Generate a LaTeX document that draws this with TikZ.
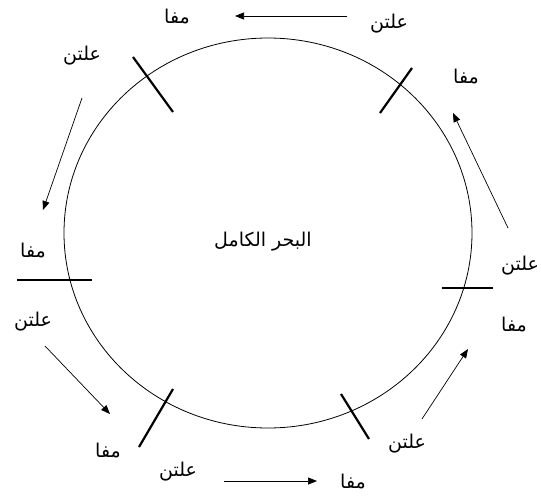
\documentclass[tikz,border=0pt]{standalone}
\usepackage{fontspec}
\newfontfamily\arabicfont[Script=Arabic]{DejaVu Sans}
\TeXXeTstate=1
\usetikzlibrary{arrows.meta}
\tikzset{
  lbl/.style={font=\arabicfont\fontsize{19}{22}\selectfont, inner sep=0pt},
  tick/.style={line width=2.2pt},
  arr/.style={line width=0.7pt, -{Triangle[length=9pt,width=7pt]}},
  ring/.style={line width=0.8pt}
}
\newcommand{\ar}[1]{\beginR #1\endR}
\begin{document}
\begin{tikzpicture}[x=1pt,y=-1pt]
\useasboundingbox (0,0) rectangle (541,496);
% circle
\draw[ring] (268,233) ellipse [x radius=204, y radius=195];
% ticks
\coordinate (t1a) at (133,57);  \coordinate (t1b) at (173,112);
\coordinate (t2a) at (412,68);  \coordinate (t2b) at (380,113);
\coordinate (t3a) at (17,280);  \coordinate (t3b) at (92,280);
\coordinate (t4a) at (442,288); \coordinate (t4b) at (493,288);
\coordinate (t5a) at (173,389); \coordinate (t5b) at (139,447);
\coordinate (t6a) at (341,394); \coordinate (t6b) at (369,439);
\draw[tick] (t1a) -- (t1b);
\draw[tick] (t2a) -- (t2b);
\draw[tick] (t3a) -- (t3b);
\draw[tick] (t4a) -- (t4b);
\draw[tick] (t5a) -- (t5b);
\draw[tick] (t6a) -- (t6b);
% labels
\node[lbl] (center) at (263,242) {\ar{البحر الكامل}};
\node[lbl] (m1) at (177,17) {\ar{مفا}};
\node[lbl] (e1) at (389,24) {\ar{علتن}};
\node[lbl] (e2) at (82,56) {\ar{علتن}};
\node[lbl] (m2) at (466,77) {\ar{مفا}};
\node[lbl] (m3) at (33,251) {\ar{مفا}};
\node[lbl] (e3) at (520,266) {\ar{علتن}};
\node[lbl] (e4) at (33,322) {\ar{علتن}};
\node[lbl] (m4) at (514,325) {\ar{مفا}};
\node[lbl] (e5) at (407,444) {\ar{علتن}};
\node[lbl] (m5) at (108,451) {\ar{مفا}};
\node[lbl] (e6) at (178,472) {\ar{علتن}};
\node[lbl] (m6) at (353,482) {\ar{مفا}};
% arrows
\coordinate (a1s) at (347,16);  \coordinate (a1e) at (235,16);
\coordinate (a2s) at (82,98);   \coordinate (a2e) at (43,210);
\coordinate (a3s) at (45,346);  \coordinate (a3e) at (110,414);
\coordinate (a4s) at (224,481); \coordinate (a4e) at (317,481);
\coordinate (a5s) at (422,419); \coordinate (a5e) at (468,349);
\coordinate (a6s) at (508,228); \coordinate (a6e) at (453,113);
\draw[arr] (a1s) -- (a1e);
\draw[arr] (a2s) -- (a2e);
\draw[arr] (a3s) -- (a3e);
\draw[arr] (a4s) -- (a4e);
\draw[arr] (a5s) -- (a5e);
\draw[arr] (a6s) -- (a6e);
\end{tikzpicture}
\end{document}
